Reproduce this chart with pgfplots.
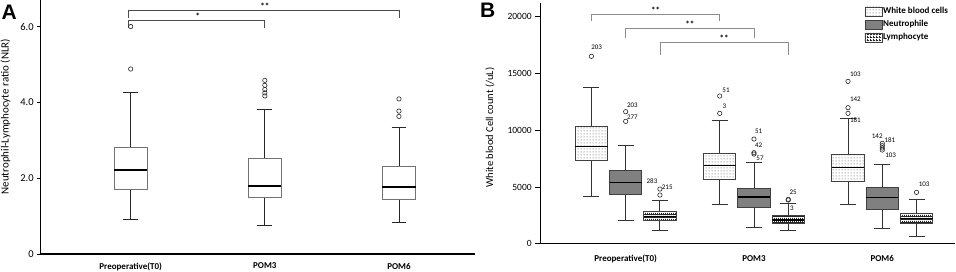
\documentclass[border=0pt]{standalone}
\usepackage{fontspec}
\setmainfont{Carlito}
\newfontfamily\arialf{Liberation Sans}
\usepackage{pgfplots}
\pgfplotsset{compat=1.18}
\usepgfplotslibrary{statistics}
\usetikzlibrary{patterns}

\pgfdeclarepatternformonly{wbcdots}{\pgfpointorigin}{\pgfpoint{2.6pt}{2.6pt}}{\pgfpoint{2.6pt}{2.6pt}}{%
  \pgfpathrectangle{\pgfpoint{0.8pt}{0.8pt}}{\pgfpoint{1pt}{1pt}}\pgfusepath{fill}}
\pgfdeclarepatternformonly{lymphgrid}{\pgfpointorigin}{\pgfpoint{2.4pt}{2.4pt}}{\pgfpoint{2.4pt}{2.4pt}}{%
  \pgfpathrectangle{\pgfpointorigin}{\pgfpoint{2.4pt}{1pt}}\pgfusepath{fill}%
  \pgfpathrectangle{\pgfpointorigin}{\pgfpoint{1pt}{2.4pt}}\pgfusepath{fill}}

\pgfplotsset{
  panel/.style={
    scale only axis, anchor=south west, clip=false,
    axis lines=left, axis line style={-, line width=1.1pt, black},
    xtick={0,1,2}, xticklabels={Preoperative(T0),POM3,POM6},
    x tick style={draw=none},
    xticklabel style={font=\bfseries\fontsize{9}{10}\selectfont, text=black},
    tick align=outside,
    y tick style={line width=0.8pt, black},
    yticklabel style={font=\fontsize{9.5}{10}\selectfont, text=black},
    boxplot/draw direction=y,
  },
  outl/.style={mark=o, mark size=2.2pt, mark options={line width=0.6pt, draw=black!85, fill=white}},
  wbc/.style={boxplot/every box/.style={draw=black!75, line width=0.8pt, fill=white, postaction={pattern=wbcdots, pattern color=black!40}}},
  neu/.style={boxplot/every box/.style={draw=black!75, line width=0.8pt, fill=black!50}},
  lym/.style={boxplot/every box/.style={draw=black!75, line width=0.8pt, fill=white, postaction={pattern=lymphgrid, pattern color=black!85}}},
}

\begin{document}
\begin{tikzpicture}
\useasboundingbox (0,0) rectangle (956pt,271pt);

% ---------------- Panel A ----------------
\begin{axis}[panel, at={(40.7pt,17pt)}, width=434.3pt, height=254pt,
  xmin=-0.671, xmax=2.567, ymin=0, ymax=6.7,
  ytick={0,2,4,6}, yticklabels={0,2.0,4.0,6.0}, major tick length=3.5pt,
  yticklabel style={font=\fontsize{10.5}{11}\selectfont},
  xticklabel style={yshift=-2pt},
  every axis y label/.style={at={(rel axis cs:-0.081,0.5406)}, rotate=90, anchor=center, font=\fontsize{11}{12}\selectfont},
  ylabel={Neutrophil-Lymphocyte ratio (NLR)},
  boxplot/every box/.style={draw=black!55, line width=0.9pt},
  boxplot/every whisker/.style={draw=black!85, line width=0.9pt},
  boxplot/every median/.style={draw=black, line width=1.6pt},
]
\addplot[black, outl, boxplot prepared={draw position=0, lower whisker=0.92, lower quartile=1.71, median=2.21, upper quartile=2.81, upper whisker=4.27, box extend=0.248, whisker extend=0.11}]
  table[row sep=\\, y index=0] {data\\ 4.88\\ 6.0\\};
\addplot[black, outl, boxplot prepared={draw position=1, lower whisker=0.74, lower quartile=1.48, median=1.79, upper quartile=2.53, upper whisker=3.80, box extend=0.248, whisker extend=0.11}]
  table[row sep=\\, y index=0] {data\\ 4.17\\ 4.25\\ 4.34\\ 4.45\\ 4.58\\};
\addplot[black, outl, boxplot prepared={draw position=2, lower whisker=0.84, lower quartile=1.43, median=1.76, upper quartile=2.30, upper whisker=3.33, box extend=0.248, whisker extend=0.11}]
  table[row sep=\\, y index=0] {data\\ 3.63\\ 3.77\\ 4.09\\};
% significance brackets
\draw[black!70, line width=0.8pt] (axis cs:-0.02,6.22) |- (axis cs:2,6.43) -- (axis cs:2,6.22);
\draw[black!70, line width=0.8pt] (axis cs:-0.02,5.97) |- (axis cs:1,6.16) -- (axis cs:1,5.97);
\node[anchor=south, inner sep=0.8pt, font=\bfseries\fontsize{9}{9}\selectfont] at (axis cs:1,6.43) {**};
\node[anchor=south, inner sep=0.8pt, font=\bfseries\fontsize{9}{9}\selectfont] at (axis cs:0.5,6.16) {*};
\end{axis}

% ---------------- Panel B (values in thousands per uL) ----------------
\begin{axis}[panel, at={(540.7pt,27.3pt)}, width=414.3pt, height=240.4pt,
  xmin=-0.6625, xmax=2.567, ymin=0, ymax=21.18,
  ytick={0,5,10,15,20}, yticklabels={0,5000,10000,15000,20000}, major tick length=5.5pt,
  xticklabel style={yshift=-2.5pt},
  every axis y label/.style={at={(rel axis cs:-0.1224,0.4834)}, rotate=90, anchor=center, font=\fontsize{10.5}{12}\selectfont},
  ylabel={White blood Cell count (/uL)},
  boxplot/every whisker/.style={draw=black!80, line width=0.9pt},
  boxplot/every median/.style={draw=black, line width=1.6pt},
  legend style={at={(rel axis cs:0.7816,0.9867)}, anchor=north west, draw=none, fill=none,
    inner sep=0pt, outer sep=0pt, row sep=3.2pt, font=\bfseries\fontsize{9}{10}\selectfont,
    nodes={inner sep=1pt}},
  legend cell align=left,
  legend image code/.code={\draw[#1] (0pt,-4.5pt) rectangle (17pt,4.5pt);},
]
\addlegendimage{draw=black!75, line width=0.7pt, fill=white, postaction={pattern=wbcdots, pattern color=black!40}}
\addlegendentry{White blood cells}
\addlegendimage{draw=black!75, line width=0.7pt, fill=black!50}
\addlegendentry{Neutrophile}
\addlegendimage{draw=black!75, line width=0.7pt, fill=white, postaction={pattern=lymphgrid, pattern color=black!85}}
\addlegendentry{Lymphocyte}

% Preoperative
\addplot[black, outl, wbc, boxplot prepared={draw position=-0.267, lower whisker=4.141, lower quartile=7.343, median=8.547, upper quartile=10.338, upper whisker=13.745, box extend=0.252, whisker extend=0.125}]
  table[row sep=\\, y index=0] {data\\ 16.506\\};
\addplot[black, outl, neu, boxplot prepared={draw position=0, lower whisker=2.085, lower quartile=4.317, median=5.375, upper quartile=6.461, upper whisker=8.635, box extend=0.252, whisker extend=0.125}]
  table[row sep=\\, y index=0] {data\\ 10.779\\ 11.631\\};
\addplot[black, outl, lym, boxplot prepared={draw position=0.267, lower whisker=1.204, lower quartile=2.027, median=2.408, upper quartile=2.878, upper whisker=3.818, box extend=0.252, whisker extend=0.125}]
  table[row sep=\\, y index=0] {data\\ 4.288\\ 4.817\\};
% POM3
\addplot[black, outl, wbc, boxplot prepared={draw position=0.733, lower whisker=3.436, lower quartile=5.668, median=6.873, upper quartile=7.989, upper whisker=10.896, box extend=0.252, whisker extend=0.125}]
  table[row sep=\\, y index=0] {data\\ 11.484\\ 13.011\\};
\addplot[black, outl, neu, boxplot prepared={draw position=1, lower whisker=1.469, lower quartile=3.172, median=4.141, upper quartile=4.875, upper whisker=7.166, box extend=0.252, whisker extend=0.125}]
  table[row sep=\\, y index=0] {data\\ 7.900\\ 8.018\\ 9.222\\};
\addplot[black, outl, lym, boxplot prepared={draw position=1.267, lower whisker=1.145, lower quartile=1.762, median=2.085, upper quartile=2.496, upper whisker=3.554, box extend=0.252, whisker extend=0.125}]
  table[row sep=\\, y index=0] {data\\ 3.850\\ 3.906\\};
% POM6
\addplot[black, outl, wbc, boxplot prepared={draw position=1.733, lower whisker=3.436, lower quartile=5.492, median=6.696, upper quartile=7.900, upper whisker=11.000, box extend=0.252, whisker extend=0.125}]
  table[row sep=\\, y index=0] {data\\ 11.484\\ 11.983\\ 14.303\\};
\addplot[black, outl, neu, boxplot prepared={draw position=2, lower whisker=1.322, lower quartile=3.025, median=4.082, upper quartile=4.963, upper whisker=6.960, box extend=0.252, whisker extend=0.125}]
  table[row sep=\\, y index=0] {data\\ 8.253\\ 8.429\\ 8.635\\ 8.840\\};
\addplot[black, outl, lym, boxplot prepared={draw position=2.267, lower whisker=0.675, lower quartile=1.792, median=2.203, upper quartile=2.643, upper whisker=3.906, box extend=0.252, whisker extend=0.125}]
  table[row sep=\\, y index=0] {data\\ 4.523\\};

% significance brackets
\draw[black!45, line width=0.8pt] (axis cs:-0.267,19.649) |- (axis cs:0.733,20.236) -- (axis cs:0.733,19.649);
\draw[black!45, line width=0.8pt] (axis cs:0,18.151) |- (axis cs:1,19.002) -- (axis cs:1,18.151);
\draw[black!45, line width=0.8pt] (axis cs:0.267,16.623) |- (axis cs:1.267,17.739) -- (axis cs:1.267,16.623);
\node[anchor=south, inner sep=0.8pt, font=\bfseries\fontsize{9}{9}\selectfont] at (axis cs:0.233,20.236) {**};
\node[anchor=south, inner sep=0.8pt, font=\bfseries\fontsize{9}{9}\selectfont] at (axis cs:0.5,19.002) {**};
\node[anchor=south, inner sep=0.8pt, font=\bfseries\fontsize{9}{9}\selectfont] at (axis cs:0.767,17.739) {**};

% outlier case labels
\begin{scope}[every node/.style={font=\fontsize{7}{8}\selectfont, inner sep=0pt}]
\node at (axis cs:-0.226,17.268) {203};
\node at (axis cs:0.052,12.219) {203};
\node at (axis cs:0.052,11.136) {277};
\node at (axis cs:0.205,5.52) {283};
\node at (axis cs:0.324,4.97) {215};
\node at (axis cs:0.782,13.541) {51};
\node at (axis cs:0.769,12.070) {3};
\node at (axis cs:1.037,9.867) {51};
\node at (axis cs:1.037,8.696) {42};
\node at (axis cs:1.047,7.489) {57};
\node at (axis cs:1.306,4.493) {25};
\node at (axis cs:1.296,3.084) {3};
\node at (axis cs:1.790,14.924) {103};
\node at (axis cs:1.790,12.722) {142};
\node at (axis cs:1.790,10.898) {181};
\node at (axis cs:1.961,9.427) {142};
\node at (axis cs:2.060,9.136) {181};
\node at (axis cs:2.065,7.815) {103};
\node at (axis cs:2.327,5.233) {103};
\end{scope}
\end{axis}

\node[anchor=north west, inner sep=0pt, font=\arialf\bfseries\fontsize{21}{21}\selectfont] at (1.5pt,266pt) {A};
\node[anchor=north west, inner sep=0pt, font=\arialf\bfseries\fontsize{21}{21}\selectfont] at (480pt,267.7pt) {B};
\end{tikzpicture}
\end{document}
